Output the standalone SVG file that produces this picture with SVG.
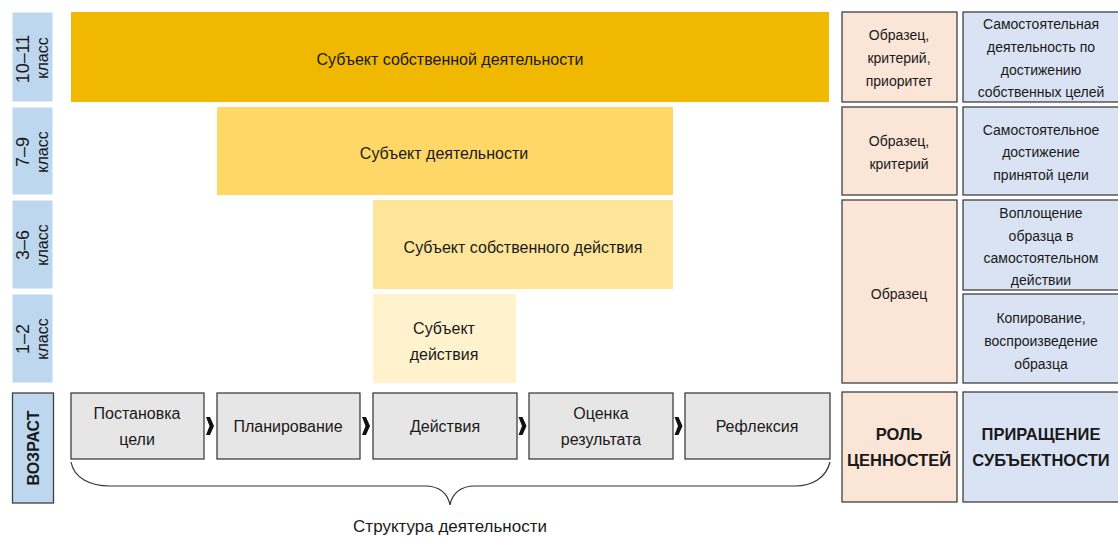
<svg xmlns="http://www.w3.org/2000/svg" width="1118" height="537" viewBox="0 0 1118 537">
<style>
text{font-family:"Liberation Sans",Arial,sans-serif;fill:#1a1a1a;text-anchor:middle;dominant-baseline:central}
.grade{fill:#BDD7EE;stroke:#fff;stroke-width:1}
.gnum{font-size:18px}
.gcl{font-size:16px}
.step{fill:#E7E6E6;stroke:#404040;stroke-width:1.3}
.pink{fill:#FBE5D6;stroke:#404040;stroke-width:1.3}
.blue{fill:#DAE3F3;stroke:#404040;stroke-width:1.3}
.t16{font-size:16px}
.t14{font-size:14px}
.big{font-size:16.5px;font-weight:bold}
.chev{fill:#111}
</style>

<g id="grade-10-11">
<rect class="grade" x="12" y="12" width="41" height="90"/>
<text class="gnum" transform="translate(23,59) rotate(-90)">10–11</text>
<text class="gcl" transform="translate(42,58) rotate(-90)">класс</text>
</g>
<g id="grade-7-9">
<rect class="grade" x="12" y="107" width="41" height="88"/>
<text class="gnum" transform="translate(23,152) rotate(-90)">7–9</text>
<text class="gcl" transform="translate(42,152) rotate(-90)">класс</text>
</g>
<g id="grade-3-6">
<rect class="grade" x="12" y="200" width="41" height="89"/>
<text class="gnum" transform="translate(23,245) rotate(-90)">3–6</text>
<text class="gcl" transform="translate(42,245) rotate(-90)">класс</text>
</g>
<g id="grade-1-2">
<rect class="grade" x="12" y="294" width="41" height="89"/>
<text class="gnum" transform="translate(23,339) rotate(-90)">1–2</text>
<text class="gcl" transform="translate(42,339) rotate(-90)">класс</text>
</g>
<g id="age">
<rect x="12.5" y="393" width="41" height="110" fill="#BDD7EE" stroke="#404040" stroke-width="1.3"/>
<text transform="translate(33,448) rotate(-90)" style="font-size:16px;font-weight:bold">ВОЗРАСТ</text>
</g>

<g id="bar-10-11">
<rect x="71" y="12" width="758" height="90" fill="#F0B800"/>
<text class="t16" x="450" y="59">Субъект собственной деятельности</text>
</g>
<g id="bar-7-9">
<rect x="217" y="107" width="456" height="88" fill="#FED766"/>
<text class="t16" x="444" y="153">Субъект деятельности</text>
</g>
<g id="bar-3-6">
<rect x="373" y="200" width="300" height="89" fill="#FEE599"/>
<text class="t16" x="523" y="247">Субъект собственного действия</text>
</g>
<g id="bar-1-2">
<rect x="373" y="294" width="143" height="89" fill="#FFF2CC"/>
<text class="t16" x="444" y="328">Субъект</text>
<text class="t16" x="444" y="354">действия</text>
</g>

<g id="step-goal">
<rect class="step" x="71" y="393" width="133" height="66"/>
<text class="t16" x="137" y="413">Постановка</text>
<text class="t16" x="137" y="439">цели</text>
</g>
<g id="step-plan">
<rect class="step" x="217" y="393" width="143" height="66"/>
<text class="t16" x="288" y="426">Планирование</text>
</g>
<g id="step-act">
<rect class="step" x="373" y="393" width="144" height="66"/>
<text class="t16" x="445" y="426">Действия</text>
</g>
<g id="step-eval">
<rect class="step" x="529" y="393" width="144" height="66"/>
<text class="t16" x="601" y="413">Оценка</text>
<text class="t16" x="601" y="439">результата</text>
</g>
<g id="step-refl">
<rect class="step" x="685" y="393" width="145" height="66"/>
<text class="t16" x="757" y="426">Рефлексия</text>
</g>

<g id="connectors">
<path class="chev" d="M206,417 L210,417 L214,426 L210,435 L206,435 L209.5,426 Z"/>
<path class="chev" d="M362,417 L366,417 L370,426 L366,435 L362,435 L365.5,426 Z"/>
<path class="chev" d="M518.5,417 L522.5,417 L526.5,426 L522.5,435 L518.5,435 L522,426 Z"/>
<path class="chev" d="M674.5,417 L678.5,417 L682.5,426 L678.5,435 L674.5,435 L678,426 Z"/>
<path d="M71,462 C74,478 90,486 110,486 L425,486 C440,486 448,494 450,505 C452,494 460,486 475,486 L795,486 C812,486 826,478 830,462" fill="none" stroke="#333" stroke-width="1.2"/>
</g>
<g id="brace-label">
<text x="450" y="526" style="font-size:17px">Структура деятельности</text>
</g>

<g id="values-10-11">
<rect class="pink" x="842" y="12" width="115" height="90"/>
<text class="t14" x="899" y="35">Образец,</text>
<text class="t14" x="899" y="58">критерий,</text>
<text class="t14" x="899" y="81">приоритет</text>
</g>
<g id="values-7-9">
<rect class="pink" x="842" y="107" width="115" height="88"/>
<text class="t14" x="899" y="141">Образец,</text>
<text class="t14" x="899" y="164">критерий</text>
</g>
<g id="values-1-6">
<rect class="pink" x="842" y="200" width="115" height="183"/>
<text class="t14" x="899" y="294">Образец</text>
</g>
<g id="values-title">
<rect class="pink" x="842" y="392" width="115" height="110"/>
<text class="big" x="899" y="434">РОЛЬ</text>
<text class="big" x="899" y="460">ЦЕННОСТЕЙ</text>
</g>

<g id="subj-10-11">
<rect class="blue" x="963" y="12" width="160" height="90"/>
<text class="t14" x="1041" y="24">Самостоятельная</text>
<text class="t14" x="1041" y="47">деятельность по</text>
<text class="t14" x="1041" y="70">достижению</text>
<text class="t14" x="1041" y="92">собственных целей</text>
</g>
<g id="subj-7-9">
<rect class="blue" x="963" y="107" width="160" height="88"/>
<text class="t14" x="1041" y="130">Самостоятельное</text>
<text class="t14" x="1041" y="152">достижение</text>
<text class="t14" x="1041" y="175">принятой цели</text>
</g>
<g id="subj-3-6">
<rect class="blue" x="963" y="200" width="160" height="90"/>
<text class="t14" x="1041" y="213">Воплощение</text>
<text class="t14" x="1041" y="236">образца в</text>
<text class="t14" x="1041" y="258">самостоятельном</text>
<text class="t14" x="1041" y="280">действии</text>
</g>
<g id="subj-1-2">
<rect class="blue" x="963" y="294" width="160" height="89"/>
<text class="t14" x="1041" y="318">Копирование,</text>
<text class="t14" x="1041" y="341">воспроизведение</text>
<text class="t14" x="1041" y="364">образца</text>
</g>
<g id="subj-title">
<rect class="blue" x="963" y="392" width="160" height="110"/>
<text class="big" x="1041" y="434">ПРИРАЩЕНИЕ</text>
<text class="big" x="1041" y="460">СУБЪЕКТНОСТИ</text>
</g>
</svg>
